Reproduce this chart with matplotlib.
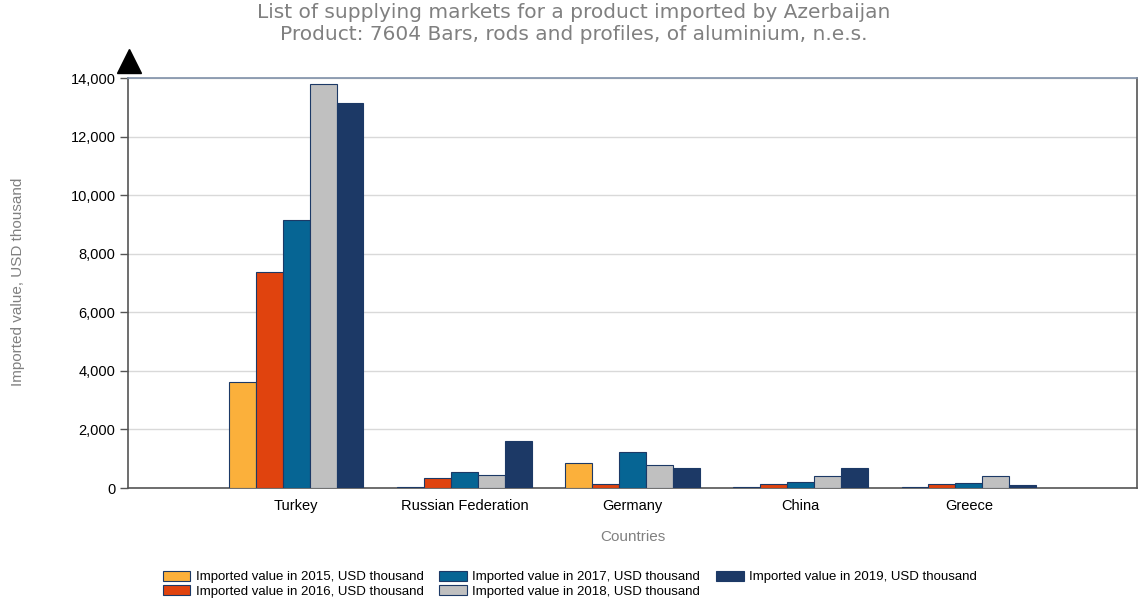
import numpy as np
import matplotlib.pyplot as plt
from matplotlib.ticker import FuncFormatter

# Data (USD thousand)
countries = ['Turkey', 'Russian Federation', 'Germany', 'China', 'Greece']
years = ['2015', '2016', '2017', '2018', '2019']
v2015 = [3620, 30, 870, 20, 30]
v2016 = [7370, 330, 150, 150, 120]
v2017 = [9150, 550, 1240, 220, 160]
v2018 = [13800, 430, 800, 410, 410]
v2019 = [13150, 1600, 700, 670, 110]
series = [v2015, v2016, v2017, v2018, v2019]
colors = ['#fbb03b', '#e0430e', '#066594', '#c0c0c0', '#1c3966']

fig = plt.figure(figsize=(11.39, 6.04), dpi=100)
ax = fig.add_axes([128 / 1139, 1 - 488 / 604, 1009 / 1139, 410 / 604])

x = np.arange(1, len(countries) + 1)
w = 0.16
for i, vals in enumerate(series):
    ax.bar(x + (i - 2) * w, vals, width=w, color=colors[i], edgecolor='#1c3966',
           linewidth=0.8, zorder=3,
           label=f'Imported value in {years[i]}, USD thousand')

ax.set_xlim(0, 6)
ax.set_ylim(0, 14000)
ax.set_yticks(range(0, 14001, 2000))
ax.yaxis.set_major_formatter(FuncFormatter(lambda v, p: f'{int(v):,}'))
ax.set_xticks(x)
ax.set_xticklabels(countries)
ax.tick_params(axis='x', length=0, pad=8, labelsize=10.5)
ax.tick_params(axis='y', length=6, width=1, color='#555555', labelsize=10.5, pad=3)
for lab in ax.get_xticklabels() + ax.get_yticklabels():
    lab.set_fontfamily('Liberation Sans')

ax.grid(axis='y', color='#d9d9d9', linewidth=1, zorder=0)
for side in ['left', 'bottom', 'right']:
    ax.spines[side].set_color('#555555')
    ax.spines[side].set_linewidth(1.2)
ax.spines['top'].set_color('#7f90a8')
ax.spines['top'].set_linewidth(1.2)

# arrow head on top of the y axis
ax.plot([129 / 1139], [1 - 61 / 604], marker='^', color='black', markersize=17,
        transform=fig.transFigure, clip_on=False)

ax.set_xlabel('Countries', color='#808080', fontsize=11, family='Liberation Sans', labelpad=12)
fig.text(18 / 1139, 1 - 282 / 604, 'Imported value, USD thousand', rotation=90,
         color='#808080', fontsize=11, family='Liberation Sans', ha='center', va='center')

fig.text(574 / 1139, 1 - 12 / 604, 'List of supplying markets for a product imported by Azerbaijan',
         ha='center', va='center', color='#808080', fontsize=14.5)
fig.text(574 / 1139, 1 - 34 / 604, 'Product: 7604 Bars, rods and profiles, of aluminium, n.e.s.',
         ha='center', va='center', color='#808080', fontsize=14.5)

fig.legend(loc='upper left', bbox_to_anchor=(156 / 1139, 1 - 564 / 604), ncol=3,
           frameon=False, prop={'family': 'Liberation Sans', 'size': 9.5},
           handlelength=2.1, handleheight=0.85, handletextpad=0.4,
           columnspacing=1.2, labelspacing=0.1, borderpad=0)

fig.savefig('out.png', dpi=100)
